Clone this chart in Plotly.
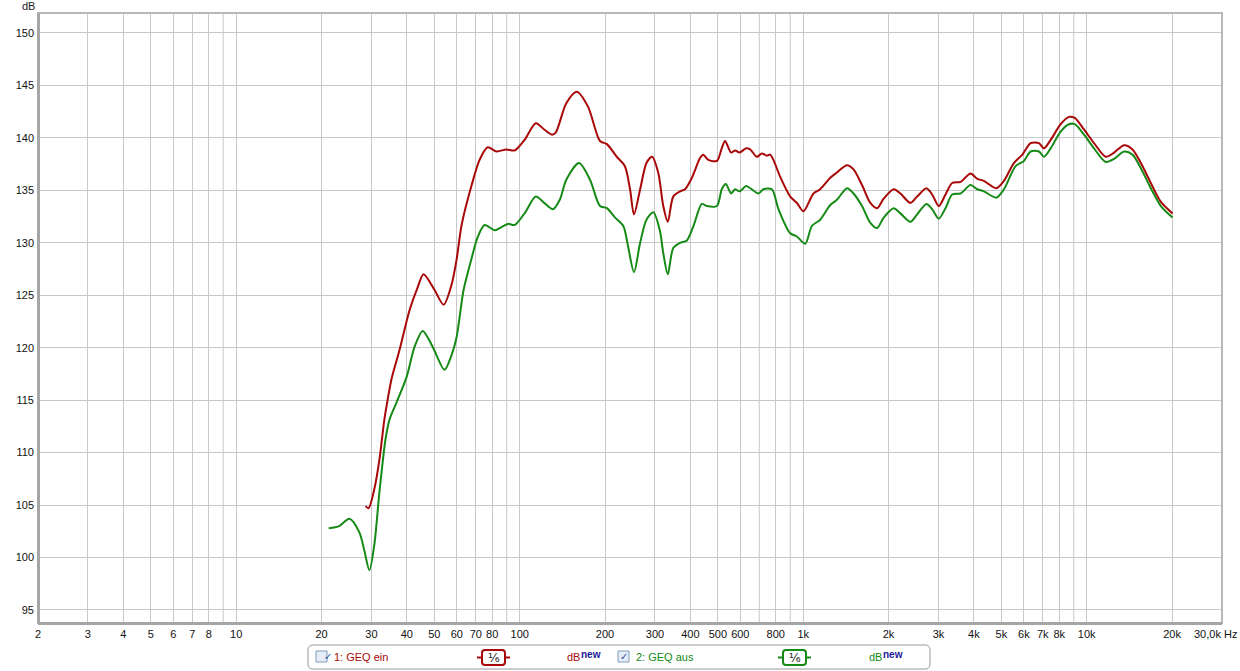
import math
import plotly.graph_objects as go

# ---------------- data ----------------
freq_ein = [28.6, 29.3, 30.7, 32.0, 33.3, 34.2, 35.3, 37.7, 40.9, 43.6,
            45.8, 50.1, 53.9, 57.5, 59.9, 62.4, 67.7, 72.2, 77.1, 82.9,
            89.7, 96.0, 104, 114, 122, 130, 134, 146, 159, 174,
            192, 203, 220, 235, 245, 253, 266, 280, 293, 308,
            321, 333, 348, 368, 383, 405, 433, 444, 463, 496,
            516, 530, 557, 575, 596, 629, 650, 686, 715, 744,
            765, 785, 829, 900, 950, 1002, 1087, 1148, 1246, 1315,
            1427, 1505, 1612, 1725, 1822, 1922, 2085, 2202, 2388, 2522,
            2720, 2850, 3007, 3176, 3353, 3587, 3892, 4111, 4337, 4797,
            5104, 5535, 5928, 6340, 6782, 7066, 7460, 8092, 8660, 9070,
            9783, 10610, 11670, 12490, 13550, 14500, 15520, 16830, 18260, 20080]
db_ein = [104.9, 104.7, 106.5, 109.3, 113.1, 115.0, 117.0, 119.8, 123.6, 125.7,
          127.0, 125.5, 124.1, 126.0, 128.4, 131.7, 135.5, 137.9, 139.1, 138.7,
          138.9, 138.8, 139.8, 141.4, 140.8, 140.3, 140.5, 143.3, 144.4, 143.0,
          139.7, 139.4, 138.2, 137.3, 135.1, 132.7, 135.1, 137.6, 138.2, 136.7,
          133.5, 132.0, 134.4, 134.9, 135.1, 136.2, 138.1, 138.4, 137.9, 137.8,
          139.0, 139.7, 138.6, 138.8, 138.6, 139.0, 138.9, 138.2, 138.5, 138.3,
          138.4, 137.9, 136.3, 134.4, 133.8, 133.0, 134.7, 135.1, 136.2, 136.7,
          137.4, 137.0, 135.5, 133.8, 133.3, 134.2, 135.1, 134.7, 133.8, 134.4,
          135.2, 134.6, 133.5, 134.6, 135.7, 135.8, 136.6, 136.1, 135.9, 135.2,
          135.9, 137.6, 138.4, 139.5, 139.5, 139.0, 139.8, 141.3, 142.0, 141.9,
          140.8, 139.5, 138.2, 138.6, 139.3, 138.9, 137.6, 135.7, 133.9, 132.8]

freq_aus = [21.2, 23.1, 25.1, 27.2, 28.3, 29.5, 30.7, 32.0, 33.6, 34.7,
            36.8, 39.9, 42.6, 45.5, 49.3, 54.3, 57.5, 59.9, 63.4, 67.5,
            71.0, 75.2, 81.6, 85.0, 90.9, 96.0, 104, 114, 122, 131,
            138.5, 146, 162, 177, 192, 203, 217, 232, 241, 253,
            266, 280, 296, 312, 321, 333, 348, 368, 388, 410,
            439, 457, 496, 516, 533, 557, 575, 596, 629, 650,
            695, 724, 775, 818, 900, 950, 1016, 1073, 1148, 1246,
            1315, 1427, 1505, 1612, 1725, 1822, 1922, 2085, 2202, 2388,
            2522, 2720, 2850, 3007, 3176, 3353, 3587, 3892, 4111, 4337,
            4797, 5104, 5613, 6003, 6340, 6782, 7066, 7460, 8092, 8660,
            9070, 9783, 10610, 11670, 12490, 13550, 14500, 15520, 16830, 18260,
            20080]
db_aus = [102.8, 103.0, 103.7, 102.4, 100.7, 98.8, 101.2, 106.2, 111.2, 113.1,
          114.8, 117.2, 120.1, 121.6, 120.1, 117.9, 119.3, 121.0, 125.5, 128.4,
          130.5, 131.7, 131.2, 131.4, 131.8, 131.7, 132.8, 134.4, 133.8, 133.2,
          134.1, 136.0, 137.6, 136.0, 133.5, 133.3, 132.4, 131.6, 129.7, 127.2,
          130.0, 132.2, 132.9, 131.2, 129.0, 127.0, 129.5, 130.0, 130.2, 131.6,
          133.7, 133.5, 133.5, 135.1, 135.6, 134.7, 135.1, 134.9, 135.4, 135.2,
          134.7, 135.1, 135.1, 133.2, 130.9, 130.6, 129.9, 131.6, 132.2, 133.6,
          134.1, 135.2, 134.7, 133.5, 131.9, 131.4, 132.4, 133.3, 132.8, 132.0,
          132.7, 133.7, 133.2, 132.3, 133.3, 134.6, 134.7, 135.5, 135.1, 134.9,
          134.3, 135.1, 137.3, 137.8, 138.7, 138.7, 138.2, 139.0, 140.6, 141.3,
          141.3, 140.3, 139.0, 137.7, 138.0, 138.7, 138.4, 137.1, 135.2, 133.5,
          132.4]

label_freqs = [2, 3, 4, 5, 6, 7, 8, 10, 20, 30, 40, 50, 60, 70, 80,
               100, 200, 300, 400, 500, 600, 800,
               1000, 2000, 3000, 4000, 5000, 6000, 7000, 8000,
               10000, 20000]
label_texts = ["2", "3", "4", "5", "6", "7", "8", "10", "20", "30", "40", "50", "60", "70", "80",
               "100", "200", "300", "400", "500", "600", "800",
               "1k", "2k", "3k", "4k", "5k", "6k", "7k", "8k",
               "10k", "20k"]
unlabeled_grid_freqs = [9, 90, 700, 900, 9000]
end_label = "30,0k Hz"
db_ticks = [95, 100, 105, 110, 115, 120, 125, 130, 135, 140, 145, 150]
f_min, f_max = 2, 30000

series_names = ["1: GEQ ein", "2: GEQ aus"]

RED = "#a80808"
GREEN = "#168a16"
BLUE = "#1a1a9a"
GRID = "#c8c8c8"
FONT = "Liberation Sans"

W, H = 1240, 671
ML, MR, MT, MB = 38, 18, 13, 48
PW, PH = W - ML - MR, H - MT - MB


def px(x):
    return (x - ML) / PW


def py(y):
    return (H - MB - y) / PH


def fx(f):
    return (math.log10(f) - math.log10(f_min)) / (math.log10(f_max) - math.log10(f_min))


fig = go.Figure()
fig.add_trace(go.Scatter(x=freq_ein, y=db_ein, mode="lines", name=series_names[0],
                         line=dict(color=RED, width=2, shape="spline", smoothing=0.8)))
fig.add_trace(go.Scatter(x=freq_aus, y=db_aus, mode="lines", name=series_names[1],
                         line=dict(color=GREEN, width=2, shape="spline", smoothing=0.8)))

shapes = []
# extra (unlabelled) vertical grid lines
for f in unlabeled_grid_freqs:
    shapes.append(dict(type="line", xref="paper", yref="paper", x0=fx(f), x1=fx(f), y0=0, y1=1,
                       line=dict(color=GRID, width=1), layer="below"))
# plot frame with shadowed left / bottom edges
shapes.append(dict(type="rect", xref="paper", yref="paper", x0=0, x1=1, y0=0, y1=1,
                   line=dict(color="#b8b8b8", width=2), layer="above"))
shapes.append(dict(type="line", xref="paper", yref="paper", x0=px(38.5), x1=px(38.5), y0=0, y1=1,
                   line=dict(color="#a6a6a6", width=3), layer="above"))
shapes.append(dict(type="line", xref="paper", yref="paper", x0=0, x1=1, y0=py(623.5), y1=py(623.5),
                   line=dict(color="#a6a6a6", width=3), layer="above"))


def rounded_rect(x0, y0, x1, y1, r):
    X0, X1 = px(x0), px(x1)
    Y0, Y1 = py(y0), py(y1)
    rx, ry = r / PW, r / PH
    return (f"M {X0+rx},{Y0} L {X1-rx},{Y0} Q {X1},{Y0} {X1},{Y0-ry} "
            f"L {X1},{Y1+ry} Q {X1},{Y1} {X1-rx},{Y1} L {X0+rx},{Y1} "
            f"Q {X0},{Y1} {X0},{Y1+ry} L {X0},{Y0-ry} Q {X0},{Y0} {X0+rx},{Y0} Z")


# legend box
shapes.append(dict(type="path", xref="paper", yref="paper", path=rounded_rect(308, 645, 930, 669, 5),
                   line=dict(color="#9a9a9a", width=1), fillcolor="white"))

annotations = []
annotations.append(dict(text="dB", x=px(28), y=py(6), xref="paper", yref="paper",
                        xanchor="center", yanchor="middle",
                        showarrow=False, font=dict(family=FONT, size=11, color="#222")))
annotations.append(dict(text=end_label, x=px(1239), y=py(634), xref="paper", yref="paper",
                        xanchor="right", yanchor="middle", showarrow=False,
                        font=dict(family=FONT, size=11, color="#111")))


def legend_entry(x_check, x_text, x_marker, x_db, color, name):
    # checkbox
    shapes.append(dict(type="rect", xref="paper", yref="paper",
                       x0=px(x_check), x1=px(x_check + 11), y0=py(651), y1=py(662),
                       line=dict(color="#7f9db9", width=1), fillcolor="#e6edf6"))
    annotations.append(dict(text="✓", x=px(x_check + 5.5), y=py(656.5), xref="paper", yref="paper",
                            yanchor="middle", showarrow=False,
                            font=dict(family="DejaVu Sans", size=10, color="#2b4f9e")))
    annotations.append(dict(text=name, x=px(x_text), y=py(657), xref="paper", yref="paper",
                            xanchor="left", yanchor="middle", showarrow=False,
                            font=dict(family=FONT, size=11, color=color)))
    # smoothing marker
    shapes.append(dict(type="line", xref="paper", yref="paper",
                       x0=px(x_marker), x1=px(x_marker + 33), y0=py(657.5), y1=py(657.5),
                       line=dict(color=color, width=2)))
    shapes.append(dict(type="path", xref="paper", yref="paper",
                       path=rounded_rect(x_marker + 5, 650, x_marker + 28, 665, 3),
                       line=dict(color=color, width=2), fillcolor="white"))
    annotations.append(dict(text="¹⁄₆", x=px(x_marker + 16.5), y=py(657.5), xref="paper", yref="paper",
                            yanchor="middle", showarrow=False,
                            font=dict(family="DejaVu Sans", size=12, color="#222")))
    annotations.append(dict(text="dB", x=px(x_db), y=py(657), xref="paper", yref="paper",
                            xanchor="left", yanchor="middle", showarrow=False,
                            font=dict(family=FONT, size=11, color=color)))
    annotations.append(dict(text="<b>new</b>", x=px(x_db + 14), y=py(654), xref="paper", yref="paper",
                            xanchor="left", yanchor="middle", showarrow=False,
                            font=dict(family=FONT, size=10, color=BLUE)))


legend_entry(316, 332, 477, 565, RED, series_names[0])
legend_entry(618, 634, 778, 867, GREEN, series_names[1])

fig.update_layout(
    width=W, height=H,
    margin=dict(l=ML, r=MR, t=MT, b=MB, pad=0, autoexpand=False),
    paper_bgcolor="white", plot_bgcolor="white",
    showlegend=False,
    shapes=shapes, annotations=annotations,
    xaxis=dict(type="log", range=[math.log10(f_min), math.log10(f_max)],
               tickmode="array", tickvals=label_freqs, ticktext=label_texts,
               showgrid=True, gridcolor=GRID, gridwidth=1, zeroline=False,
               ticks="", showline=False, automargin=False, ticklabelstandoff=3,
               tickfont=dict(family=FONT, size=11, color="#111")),
    yaxis=dict(range=[93.76, 151.9], tickmode="array", tickvals=db_ticks,
               showgrid=True, gridcolor=GRID, gridwidth=1, zeroline=False,
               ticks="", showline=False, automargin=False, ticklabelstandoff=3,
               tickfont=dict(family=FONT, size=11, color="#111")),
)

fig.write_html("out.html", config={"displayModeBar": False},
               post_script="document.body.style.margin='0px';document.body.style.overflow='hidden';")
